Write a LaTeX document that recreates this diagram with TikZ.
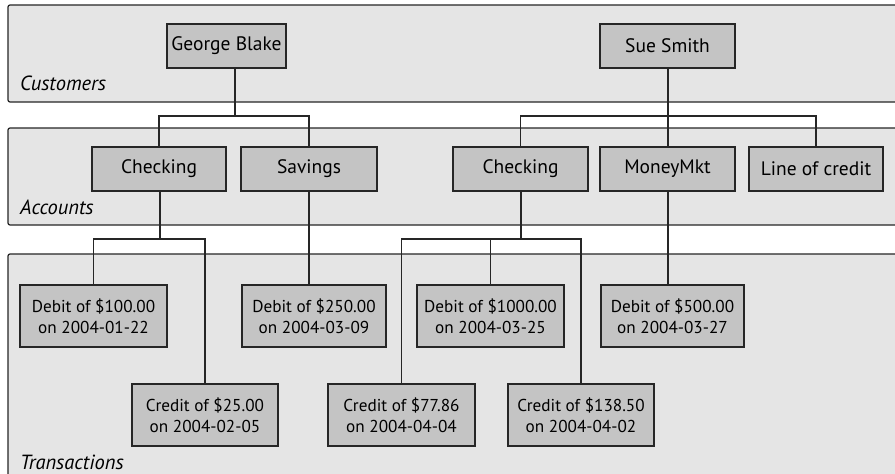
\documentclass[tikz,border=0pt]{standalone}
\usepackage{fontspec}
\setmainfont{PT Sans}
\begin{document}
\begin{tikzpicture}[x=1pt,y=-1pt,
  band/.style={draw=black!85,line width=1.2pt,fill=black!10,rounded corners=2pt},
  box/.style={draw=black!85,line width=1.1pt,fill=black!23,inner sep=0pt,align=center},
  acc/.style={box,minimum height=44pt,font=\fontsize{19.5}{22}\selectfont},
  trn/.style={box,minimum width=146pt,minimum height=62pt,font=\fontsize{17.2}{21}\selectfont},
  lab/.style={anchor=west,inner sep=0pt,font=\fontsize{20.5}{22}\selectfont\itshape},
  conn/.style={draw=black!85,line width=1.1pt}]
\useasboundingbox (0,0) rectangle (895,474);
\clip (0,0) rectangle (895,474);
\fill[white] (0,0) rectangle (895,474);
% bands
\path[band] (8,5) rectangle (910,102);
\path[band] (8,128) rectangle (910,225);
\path[band] (8,254) rectangle (910,490);
\node[lab] (lc) at (20,83) {Customers};
\node[lab] (la) at (20,207) {Accounts};
\node[lab] (lt) at (20,462) {Transactions};
% customers
\node[acc,minimum width=119pt] (GB) at (226.5,46) {George Blake};
\node[acc,minimum width=135pt] (SS) at (667.5,46) {Sue Smith};
% accounts
\node[acc,minimum width=134pt] (Ch1) at (159,169) {Checking};
\node[acc,minimum width=136pt] (Sav) at (309,169) {Savings};
\node[acc,minimum width=135pt] (Ch2) at (520.5,169) {Checking};
\node[acc,minimum width=135pt] (MM) at (667.5,169) {MoneyMkt};
\node[acc,minimum width=134pt] (LoC) at (816,169) {Line of credit};
% transactions
\node[trn,minimum width=147pt] (D100) at (93.5,316) {Debit of \$100.00\\on 2004-01-22};
\node[trn] (C25) at (205,415) {Credit of \$25.00\\on 2004-02-05};
\node[trn,minimum width=144pt] (D250) at (314,316) {Debit of \$250.00\\on 2004-03-09};
\node[trn,minimum width=147pt] (D1000) at (490.5,316) {Debit of \$1000.00\\on 2004-03-25};
\node[trn,minimum width=147pt] (C77) at (401.5,415) {Credit of \$77.86\\on 2004-04-04};
\node[trn] (C138) at (581,415) {Credit of \$138.50\\on 2004-04-02};
\node[trn,minimum width=143pt] (D500) at (672.5,316) {Debit of \$500.00\\on 2004-03-27};
% bus coordinates
\coordinate (b1) at (235,116);
\coordinate (b2) at (668,116);
\coordinate (b3) at (160,239);
\coordinate (b4) at (521,239);
\coordinate (s1) at (309,0);
\coordinate (m1) at (668,0);
% connectors
\draw[conn] (GB.south -| b1) -- (b1);
\draw[conn] (Ch1.north) |- (b1) -| (Sav.north);
\draw[conn] (SS.south -| b2) -- (MM.north -| b2);
\draw[conn] (Ch2.north) |- (b2) -| (LoC.north);
\draw[conn] (Ch1.south -| b3) -- (b3);
\draw[conn] (D100.north) |- (b3) -| (C25.north);
\draw[conn] (Sav.south -| s1) -- (D250.north -| s1);
\draw[conn] (Ch2.south -| b4) -- (b4);
\draw[conn] (C77.north) |- (b4) -| (C138.north);
\draw[conn] (D1000.north) -- (D1000.north |- b4);
\draw[conn] (MM.south -| m1) -- (D500.north -| m1);
\end{tikzpicture}
\end{document}
